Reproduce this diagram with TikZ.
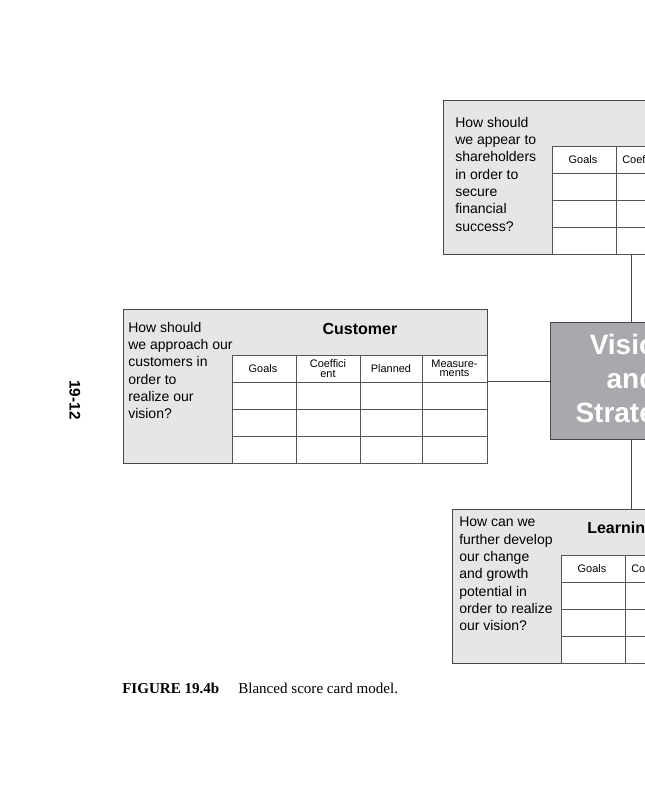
\documentclass[tikz,border=0pt]{standalone}
\usepackage{fontspec}
\setmainfont{Liberation Serif}
\newfontfamily\arial{Liberation Sans}
\definecolor{panelgray}{HTML}{E6E6E7}
\definecolor{visiongray}{HTML}{A7A9AC}
\definecolor{edgegray}{HTML}{474747}
\definecolor{tabgray}{HTML}{555555}
\begin{document}
\begin{tikzpicture}[x=0.75pt,y=-0.75pt,
  panel/.style={draw=edgegray, fill=panelgray, line width=0.8pt, anchor=north west,
    inner sep=0pt, minimum width=273pt, minimum height=115.5pt},
  vis/.style={draw=edgegray, fill=visiongray, line width=0.8pt, anchor=north west,
    inner sep=0pt, minimum width=121.5pt, minimum height=87.75pt,
    text=white, align=center, font=\arial\bfseries\fontsize{21}{25.5}\selectfont},
  question/.style={anchor=north west, inner sep=0pt, align=left,
    font=\arial\fontsize{10.5}{13}\selectfont},
  paneltitle/.style={inner sep=0pt, font=\arial\bfseries\fontsize{12}{14}\selectfont},
  hdr/.style={inner sep=0pt, align=center, font=\arial\fontsize{8.2}{7}\selectfont},
  tabline/.style={draw=tabgray, line width=0.65pt},
  conn/.style={draw=edgegray, line width=0.8pt},
  pics/scoretab/.style={code={
    \fill[white] (0,0) rectangle (255,108);
    \draw[tabline] (0,0) rectangle (255,108);
    \foreach \c in {64,128,190} \draw[tabline] (\c,0) -- (\c,108);
    \foreach \r in {27,54,81} \draw[tabline] (0,\r) -- (255,\r);
    \node[hdr] at (31,13.5) {Goals};
    \node[hdr] at (96,13.5) {#1};
    \node[hdr] at (159,13.5) {Planned};
    \node[hdr] at (222.5,13.5) {Measure-\\ments};
  }}]
\useasboundingbox (0,0) rectangle (645,800);
\clip (0,0) rectangle (645,800);

% panels
\node[panel] (fin) at (443,100) {};
\node[panel] (cust) at (123,309) {};
\node[panel] (learn) at (452,509) {};
\node[vis] (vision) at (550,322) {Vision\\and\\Strategy};

% tables
\pic at (552,146) {scoretab={Coefficient}};
\pic at (232,355) {scoretab={Coeffici\\ent}};
\pic at (561,555) {scoretab={Coefficient}};

% questions
\node[question] (qfin) at (455,116.8) {How should\\we appear to\\shareholders\\in order to\\secure\\financial\\success?};
\node[question] (qcust) at (128,321.8) {How should\\we approach our\\customers in\\order to\\realize our\\vision?};
\node[question] (qlearn) at (459,516.8) {How can we\\further develop\\our change\\and growth\\potential in\\order to realize\\our vision?};

% titles
\node[paneltitle, anchor=base] (tcust) at (360,334) {Customer};
\node[paneltitle, anchor=base west] (tlearn) at (587,533) {Learning and Growth};

% connectors
\draw[conn] (vision.north) -- (vision.north |- fin.south);
\draw[conn] (vision.west) -- (vision.west -| cust.east);
\draw[conn] (vision.south) -- (vision.south |- learn.north);

% page number and caption
\node[rotate=-90, inner sep=0pt, font=\arial\bfseries\fontsize{11.5}{14}\selectfont] (pg) at (75,400) {19-12};
\node[anchor=base west, inner sep=0pt, font=\bfseries\fontsize{11.3}{13}\selectfont] (figlbl) at (122,693) {FIGURE 19.4b};
\node[anchor=base west, inner sep=0pt, font=\fontsize{11.3}{13}\selectfont] (figtxt) at (238,693) {Blanced score card model.};
\end{tikzpicture}
\end{document}
